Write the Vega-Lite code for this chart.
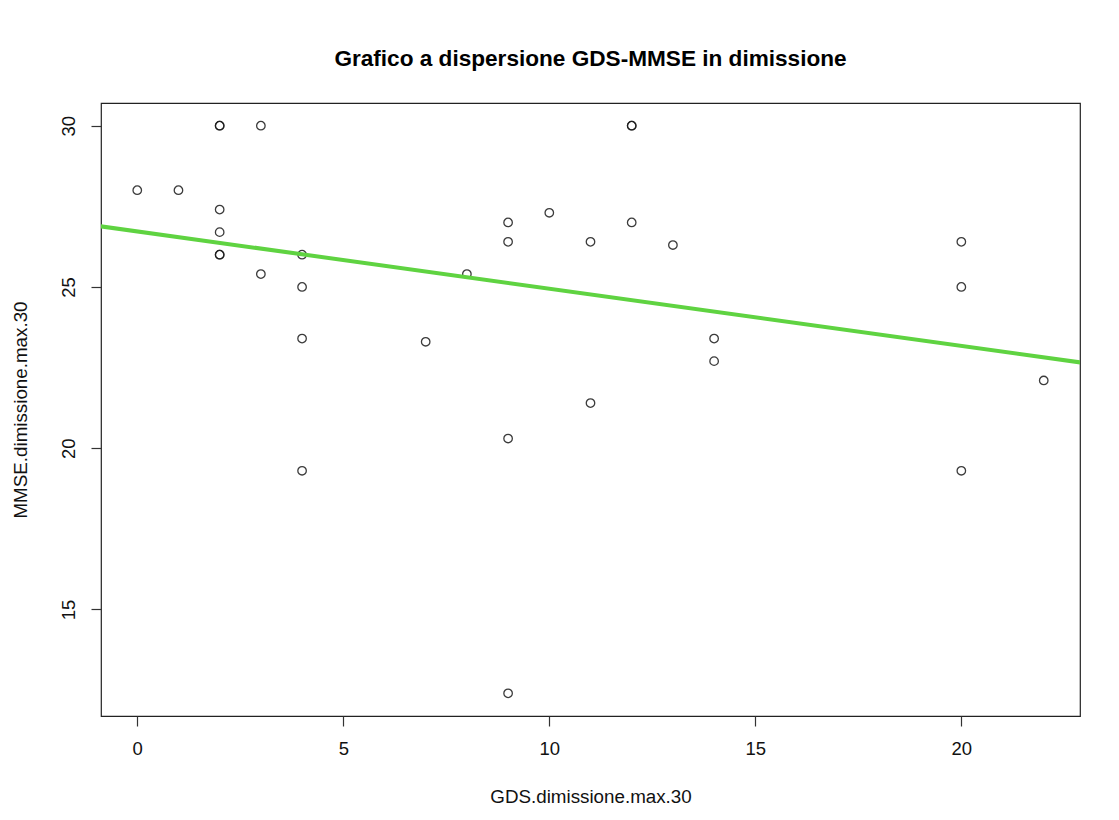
{
  "$schema": "https://vega.github.io/schema/vega-lite/v6.json",
  "autosize": "none",
  "width": 979,
  "height": 613,
  "padding": {"left": 101, "top": 103, "right": 39, "bottom": 104},
  "background": "white",
  "config": {
    "font": "Liberation Sans",
    "view": {"stroke": "#222222", "strokeWidth": 1.2}
  },
  "title": {
    "text": "Grafico a dispersione GDS-MMSE in dimissione",
    "font": "Liberation Sans",
    "fontSize": 22.6,
    "fontWeight": "bold",
    "color": "black",
    "anchor": "middle",
    "offset": 32
  },
  "datasets": {
    "patients": [
      {"gds": 0, "mmse": 28},
      {"gds": 1, "mmse": 28},
      {"gds": 2, "mmse": 30},
      {"gds": 2, "mmse": 30},
      {"gds": 2, "mmse": 27.4},
      {"gds": 2, "mmse": 26.7},
      {"gds": 2, "mmse": 26},
      {"gds": 2, "mmse": 26},
      {"gds": 3, "mmse": 30},
      {"gds": 3, "mmse": 25.4},
      {"gds": 4, "mmse": 26},
      {"gds": 4, "mmse": 25},
      {"gds": 4, "mmse": 23.4},
      {"gds": 4, "mmse": 19.3},
      {"gds": 7, "mmse": 23.3},
      {"gds": 8, "mmse": 25.4},
      {"gds": 9, "mmse": 27},
      {"gds": 9, "mmse": 26.4},
      {"gds": 9, "mmse": 20.3},
      {"gds": 9, "mmse": 12.4},
      {"gds": 10, "mmse": 27.3},
      {"gds": 11, "mmse": 26.4},
      {"gds": 11, "mmse": 21.4},
      {"gds": 12, "mmse": 30},
      {"gds": 12, "mmse": 30},
      {"gds": 12, "mmse": 27},
      {"gds": 13, "mmse": 26.3},
      {"gds": 14, "mmse": 23.4},
      {"gds": 14, "mmse": 22.7},
      {"gds": 20, "mmse": 26.4},
      {"gds": 20, "mmse": 25},
      {"gds": 20, "mmse": 19.3},
      {"gds": 22, "mmse": 22.1}
    ],
    "fit": [
      {"gds": -1, "mmse": 26.90},
      {"gds": 23, "mmse": 22.64}
    ]
  },
  "layer": [
    {
      "data": {"name": "patients"},
      "mark": {"type": "point", "shape": "circle", "filled": false, "stroke": "#1a1a1a", "strokeWidth": 1.3, "size": 72, "opacity": 0.85},
      "encoding": {
        "x": {
          "field": "gds",
          "type": "quantitative",
          "scale": {"domain": [-0.88, 22.88], "nice": false, "zero": false},
          "axis": {
            "title": "GDS.dimissione.max.30",
            "values": [0, 5, 10, 15, 20],
            "grid": false,
            "domain": false,
            "ticks": true,
            "tickSize": 10,
            "tickColor": "#333333",
            "tickWidth": 1.2,
            "labelFont": "Liberation Sans",
            "labelFontSize": 18.5,
            "labelColor": "#111111",
            "labelPadding": 13,
            "titleFont": "Liberation Sans",
            "titleFontSize": 18.8,
            "titleFontWeight": "normal",
            "titleColor": "#111111",
            "titlePadding": 30
          }
        },
        "y": {
          "field": "mmse",
          "type": "quantitative",
          "scale": {"domain": [11.696, 30.704], "nice": false, "zero": false},
          "axis": {
            "title": "MMSE.dimissione.max.30",
            "values": [15, 20, 25, 30],
            "grid": false,
            "domain": false,
            "ticks": true,
            "tickSize": 10,
            "tickColor": "#333333",
            "tickWidth": 1.2,
            "labelAngle": 270,
            "labelAlign": "center",
            "labelBaseline": "bottom",
            "labelFont": "Liberation Sans",
            "labelFontSize": 18.5,
            "labelColor": "#111111",
            "labelPadding": 13,
            "titleFont": "Liberation Sans",
            "titleFontSize": 18.8,
            "titleFontWeight": "normal",
            "titleColor": "#111111",
            "titlePadding": 29
          }
        }
      }
    },
    {
      "data": {"name": "fit"},
      "mark": {"type": "line", "color": "#5fd341", "strokeWidth": 4, "clip": true},
      "encoding": {
        "x": {"field": "gds", "type": "quantitative"},
        "y": {"field": "mmse", "type": "quantitative"}
      }
    }
  ]
}
